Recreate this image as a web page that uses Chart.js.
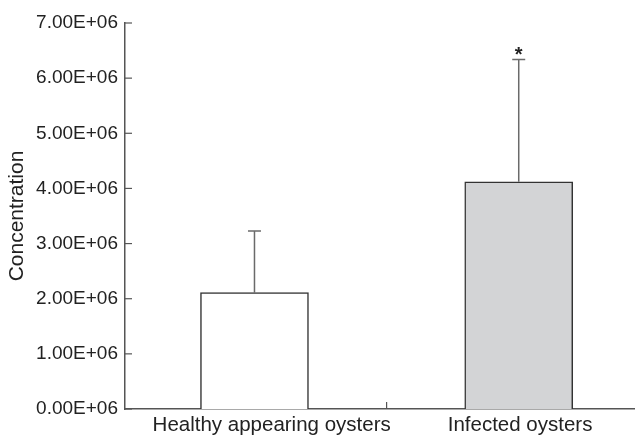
<!DOCTYPE html>
<html>
<head>
<meta charset="utf-8">
<script src="https://cdn.jsdelivr.net/npm/chart.js@4/dist/chart.umd.min.js"></script>
<style>
body{margin:0;background:#fff;}
#wrap{width:635px;height:441px;}
</style>
</head>
<body>
<div id="wrap"><canvas id="grafico" width="635" height="441"></canvas></div>
<script>
const categorias = ["Healthy appearing oysters", "Infected oysters"];
const valores = [2.11e6, 4.12e6];
const erros = [1.12e6, 2.22e6];
const marcas = ["", "*"];
const cores = ["#ffffff", "#d3d4d6"];
const yTicks = [0, 1e6, 2e6, 3e6, 4e6, 5e6, 6e6, 7e6];

// the first label sits a little right of its bar in the original
const deslocLabel = [0.065, 0.005];

const fonte = "'Liberation Sans', Arial, Helvetica, sans-serif";

// error bars, asterisks and the inward ticks
const extras = {
  id: "extras",
  afterDatasetsDraw(chart){
    const ctx = chart.ctx;
    const xs = chart.scales.x, ys = chart.scales.y;
    ctx.save();
    ctx.strokeStyle = "#6a6a6a";
    ctx.lineWidth = 1.5;
    valores.forEach((v, i) => {
      const x = xs.getPixelForValue(i);
      const y0 = ys.getPixelForValue(v);
      const y1 = ys.getPixelForValue(v + erros[i]);
      ctx.beginPath();
      ctx.moveTo(x, y0);
      ctx.lineTo(x, y1);
      ctx.moveTo(x - 6.5, y1);
      ctx.lineTo(x + 6.5, y1);
      ctx.stroke();
      if (marcas[i]) {
        ctx.fillStyle = "#222";
        ctx.font = "bold 20px " + fonte;
        ctx.textAlign = "center";
        ctx.textBaseline = "alphabetic";
        ctx.fillText(marcas[i], x, y1 + 2);
      }
    });
    // ticks pointing into the plot
    ctx.strokeStyle = "#555";
    ctx.lineWidth = 1.2;
    const left = chart.chartArea.left, bottom = chart.chartArea.bottom;
    yTicks.forEach(t => {
      const y = ys.getPixelForValue(t);
      ctx.beginPath();
      ctx.moveTo(left, y);
      ctx.lineTo(left + 7, y);
      ctx.stroke();
    });
    for (let i = 0; i < categorias.length - 1; i++) {
      const x = xs.getPixelForValue(i + 0.5);
      ctx.beginPath();
      ctx.moveTo(x, bottom);
      ctx.lineTo(x, bottom - 7);
      ctx.stroke();
    }
    ctx.restore();
  }
};

new Chart(document.getElementById("grafico"), {
  type: "bar",
  data: {
    datasets: [{
      data: valores.map((v, i) => ({x: i, y: v})),
      backgroundColor: cores,
      borderColor: "#333",
      borderWidth: 1.5,
      barThickness: 108
    }]
  },
  options: {
    responsive: false,
    animation: false,
    layout: {padding: {top: 23, right: 0, left: 0, bottom: 0}},
    plugins: {
      legend: {display: false},
      tooltip: {enabled: false}
    },
    scales: {
      x: {
        type: "linear",
        offset: false,
        min: -0.49,
        max: 1.44,
        afterDataLimits: s => { s.min = -0.49; s.max = 1.44; },
        afterBuildTicks: s => { s.ticks = categorias.map((c, i) => ({value: i + deslocLabel[i]})); },
        afterFit: s => { s.height = 32; },
        grid: {display: false, drawTicks: false},
        border: {color: "#555", width: 1.5},
        ticks: {
          autoSkip: false,
          maxRotation: 0,
          padding: 4,
          color: "#222",
          font: {family: fonte, size: 20.5},
          callback: (v, i) => categorias[i]
        }
      },
      y: {
        min: 0,
        max: 7e6,
        afterBuildTicks: s => { s.ticks = yTicks.map(v => ({value: v})); },
        afterFit: s => { s.width = 125; },
        grid: {display: false, drawTicks: false},
        border: {color: "#555", width: 1.5},
        title: {
          display: true,
          text: "Concentration",
          color: "#222",
          font: {family: fonte, size: 21},
          padding: {top: 5, bottom: 0}
        },
        ticks: {
          padding: 7,
          color: "#222",
          font: {family: fonte, size: 19},
          callback: v => (v / 1e6).toFixed(2) + "E+06"
        }
      }
    }
  },
  plugins: [extras]
});
</script>
</body>
</html>
